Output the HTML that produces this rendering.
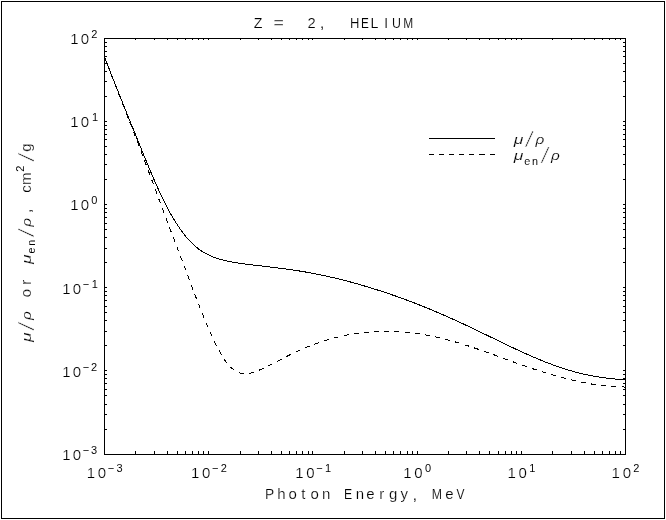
<!DOCTYPE html>
<html lang="en"><head><meta charset="utf-8"><title>Z = 2, HELIUM</title>
<style>html,body{margin:0;padding:0;background:#fff}body{width:666px;height:520px;overflow:hidden}svg{display:block}text{font-family:"Liberation Sans",sans-serif;fill:#000;stroke:#fff;stroke-width:0.22}.i{font-style:italic}</style></head><body>
<svg width="666" height="520" viewBox="0 0 666 520">
<rect width="666" height="520" fill="#fff"/>
<g shape-rendering="crispEdges" fill="none" stroke="#000" stroke-width="1">
<rect x="1.5" y="1.5" width="663" height="517"/>
<rect x="104.5" y="38.5" width="521" height="416"/>
<path d="M135.5 454v-3M135.5 39v1M105 429.5h2M625 429.5h-2M154.5 454v-3M154.5 39v1M105 414.5h2M625 414.5h-2M167.5 454v-3M167.5 39v1M105 404.5h2M625 404.5h-2M177.5 454v-3M177.5 39v1M105 395.5h2M625 395.5h-2M185.5 454v-3M185.5 39v1M105 389.5h2M625 389.5h-2M192.5 454v-3M192.5 39v1M105 383.5h2M625 383.5h-2M198.5 454v-3M198.5 39v1M105 378.5h2M625 378.5h-2M203.5 454v-3M203.5 39v1M105 374.5h2M625 374.5h-2M208.5 454v-3M208.5 39v1M105 370.5h2M625 370.5h-2M240.5 454v-3M240.5 39v1M105 345.5h2M625 345.5h-2M258.5 454v-3M258.5 39v1M105 331.5h2M625 331.5h-2M271.5 454v-3M271.5 39v1M105 320.5h2M625 320.5h-2M281.5 454v-3M281.5 39v1M105 312.5h2M625 312.5h-2M289.5 454v-3M289.5 39v1M105 306.5h2M625 306.5h-2M296.5 454v-3M296.5 39v1M105 300.5h2M625 300.5h-2M302.5 454v-3M302.5 39v1M105 295.5h2M625 295.5h-2M308.5 454v-3M308.5 39v1M105 291.5h2M625 291.5h-2M312.5 454v-3M312.5 39v1M105 287.5h2M625 287.5h-2M344.5 454v-3M344.5 39v1M105 262.5h2M625 262.5h-2M362.5 454v-3M362.5 39v1M105 248.5h2M625 248.5h-2M375.5 454v-3M375.5 39v1M105 237.5h2M625 237.5h-2M385.5 454v-3M385.5 39v1M105 229.5h2M625 229.5h-2M393.5 454v-3M393.5 39v1M105 223.5h2M625 223.5h-2M400.5 454v-3M400.5 39v1M105 217.5h2M625 217.5h-2M407.5 454v-3M407.5 39v1M105 212.5h2M625 212.5h-2M412.5 454v-3M412.5 39v1M105 208.5h2M625 208.5h-2M417.5 454v-3M417.5 39v1M105 204.5h2M625 204.5h-2M448.5 454v-3M448.5 39v1M105 179.5h2M625 179.5h-2M466.5 454v-3M466.5 39v1M105 164.5h2M625 164.5h-2M479.5 454v-3M479.5 39v1M105 154.5h2M625 154.5h-2M489.5 454v-3M489.5 39v1M105 146.5h2M625 146.5h-2M498.5 454v-3M498.5 39v1M105 139.5h2M625 139.5h-2M505.5 454v-3M505.5 39v1M105 134.5h2M625 134.5h-2M511.5 454v-3M511.5 39v1M105 129.5h2M625 129.5h-2M516.5 454v-3M516.5 39v1M105 125.5h2M625 125.5h-2M521.5 454v-3M521.5 39v1M105 121.5h2M625 121.5h-2M552.5 454v-3M552.5 39v1M105 96.5h2M625 96.5h-2M571.5 454v-3M571.5 39v1M105 81.5h2M625 81.5h-2M584.5 454v-3M584.5 39v1M105 71.5h2M625 71.5h-2M594.5 454v-3M594.5 39v1M105 63.5h2M625 63.5h-2M602.5 454v-3M602.5 39v1M105 56.5h2M625 56.5h-2M609.5 454v-3M609.5 39v1M105 51.5h2M625 51.5h-2M615.5 454v-3M615.5 39v1M105 46.5h2M625 46.5h-2M620.5 454v-3M620.5 39v1M105 42.5h2M625 42.5h-2"/>
<path d="M429 138.5H495"/>
<path d="M429 154.5h5M439 154.5h5M449 154.5h5M459 154.5h5M469 154.5h5M479 154.5h6M490 154.5h5"/>
<polyline points="104.2,56.11 105.7,60.01 107.2,63.89 108.7,67.76 110.21,71.6 111.71,75.43 113.21,79.24 114.71,83.03 116.21,86.82 117.71,90.59 119.21,94.35 120.72,98.1 122.22,101.84 123.72,105.57 125.22,109.3 126.72,113.02 128.22,116.74 129.72,120.45 131.23,124.17 132.73,127.88 134.23,131.59 135.73,135.31 137.23,139.02 138.73,142.74 140.23,146.44 141.74,150.14 143.24,153.83 144.74,157.5 146.24,161.14 147.74,164.76 149.24,168.35 150.74,171.91 152.25,175.43 153.75,178.91 155.25,182.34 156.75,185.72 158.25,189.05 159.75,192.32 161.25,195.52 162.76,198.65 164.26,201.71 165.76,204.69 167.26,207.58 168.76,210.38 170.26,213.1 171.76,215.74 173.27,218.29 174.77,220.76 176.27,223.15 177.77,225.46 179.27,227.69 180.77,229.85 182.27,231.92 183.78,233.91 185.28,235.81 186.78,237.62 188.28,239.35 189.78,240.99 191.28,242.55 192.79,244.02 194.29,245.41 195.79,246.72 197.29,247.95 198.79,249.1 200.29,250.18 201.79,251.18 203.3,252.11 204.8,252.98 206.3,253.8 207.8,254.56 209.3,255.28 210.8,255.95 212.3,256.58 213.81,257.17 215.31,257.72 216.81,258.23 218.31,258.72 219.81,259.17 221.31,259.6 222.81,260 224.32,260.37 225.82,260.73 227.32,261.06 228.82,261.38 230.32,261.69 231.82,261.97 233.32,262.25 234.83,262.51 236.33,262.76 237.83,263 239.33,263.23 240.83,263.45 242.33,263.66 243.83,263.87 245.34,264.07 246.84,264.26 248.34,264.46 249.84,264.64 251.34,264.82 252.84,265 254.34,265.18 255.85,265.35 257.35,265.52 258.85,265.7 260.35,265.87 261.85,266.04 263.35,266.21 264.85,266.38 266.36,266.56 267.86,266.73 269.36,266.91 270.86,267.08 272.36,267.26 273.86,267.44 275.36,267.63 276.87,267.81 278.37,268 279.87,268.19 281.37,268.38 282.87,268.58 284.37,268.78 285.87,268.98 287.38,269.19 288.88,269.4 290.38,269.61 291.88,269.83 293.38,270.05 294.88,270.28 296.38,270.51 297.89,270.74 299.39,270.98 300.89,271.22 302.39,271.47 303.89,271.72 305.39,271.98 306.89,272.24 308.4,272.51 309.9,272.78 311.4,273.06 312.9,273.35 314.4,273.63 315.9,273.93 317.4,274.22 318.91,274.53 320.41,274.83 321.91,275.15 323.41,275.46 324.91,275.79 326.41,276.11 327.91,276.45 329.42,276.78 330.92,277.12 332.42,277.47 333.92,277.82 335.42,278.18 336.92,278.54 338.42,278.9 339.93,279.27 341.43,279.65 342.93,280.03 344.43,280.41 345.93,280.8 347.43,281.2 348.93,281.6 350.44,282 351.94,282.41 353.44,282.82 354.94,283.24 356.44,283.66 357.94,284.09 359.44,284.52 360.95,284.95 362.45,285.39 363.95,285.83 365.45,286.28 366.95,286.73 368.45,287.18 369.96,287.64 371.46,288.1 372.96,288.56 374.46,289.03 375.96,289.51 377.46,289.99 378.96,290.47 380.47,290.95 381.97,291.44 383.47,291.94 384.97,292.43 386.47,292.94 387.97,293.44 389.47,293.95 390.98,294.47 392.48,294.99 393.98,295.51 395.48,296.03 396.98,296.56 398.48,297.09 399.98,297.63 401.49,298.17 402.99,298.71 404.49,299.26 405.99,299.82 407.49,300.37 408.99,300.93 410.49,301.5 412,302.07 413.5,302.64 415,303.22 416.5,303.8 418,304.39 419.5,304.98 421,305.58 422.51,306.18 424.01,306.79 425.51,307.4 427.01,308.01 428.51,308.62 430.01,309.24 431.51,309.87 433.02,310.49 434.52,311.12 436.02,311.76 437.52,312.4 439.02,313.04 440.52,313.69 442.02,314.34 443.53,315 445.03,315.66 446.53,316.32 448.03,316.99 449.53,317.66 451.03,318.34 452.53,319.01 454.04,319.69 455.54,320.38 457.04,321.06 458.54,321.75 460.04,322.44 461.54,323.14 463.04,323.84 464.55,324.54 466.05,325.24 467.55,325.95 469.05,326.66 470.55,327.38 472.05,328.09 473.55,328.81 475.06,329.53 476.56,330.25 478.06,330.97 479.56,331.69 481.06,332.42 482.56,333.14 484.06,333.86 485.57,334.59 487.07,335.31 488.57,336.04 490.07,336.76 491.57,337.49 493.07,338.22 494.57,338.94 496.08,339.67 497.58,340.4 499.08,341.13 500.58,341.85 502.08,342.58 503.58,343.3 505.08,344.02 506.59,344.75 508.09,345.46 509.59,346.18 511.09,346.89 512.59,347.6 514.09,348.31 515.59,349.01 517.1,349.71 518.6,350.4 520.1,351.09 521.6,351.78 523.1,352.47 524.6,353.14 526.1,353.82 527.61,354.49 529.11,355.16 530.61,355.82 532.11,356.47 533.61,357.12 535.11,357.77 536.61,358.4 538.12,359.03 539.62,359.66 541.12,360.28 542.62,360.89 544.12,361.49 545.62,362.09 547.13,362.68 548.63,363.26 550.13,363.83 551.63,364.39 553.13,364.94 554.63,365.49 556.13,366.02 557.64,366.55 559.14,367.06 560.64,367.57 562.14,368.07 563.64,368.56 565.14,369.04 566.64,369.51 568.15,369.97 569.65,370.42 571.15,370.86 572.65,371.29 574.15,371.71 575.65,372.12 577.15,372.52 578.66,372.9 580.16,373.28 581.66,373.65 583.16,374 584.66,374.35 586.16,374.68 587.66,375 589.17,375.3 590.67,375.6 592.17,375.88 593.67,376.15 595.17,376.4 596.67,376.65 598.17,376.88 599.68,377.11 601.18,377.33 602.68,377.54 604.18,377.75 605.68,377.95 607.18,378.15 608.68,378.34 610.19,378.52 611.69,378.68 613.19,378.84 614.69,378.98 616.19,379.1 617.69,379.21 619.19,379.3 620.7,379.38 622.2,379.43 623.7,379.46 625.2,379.47"/>
<polyline points="104.2,56.34 105.7,60.29 107.2,64.21 108.7,68.11 110.21,71.99 111.71,75.86 113.21,79.71 114.71,83.55 116.21,87.38 117.71,91.2 119.21,95.02 120.72,98.84 122.22,102.65 123.72,106.46 125.22,110.28 126.72,114.1 128.22,117.93 129.72,121.77 131.23,125.63 132.73,129.49 134.23,133.37 135.73,137.27 137.23,141.19 138.73,145.13 140.23,149.08 141.74,153.05 143.24,157.04 144.74,161.04 146.24,165.05 147.74,169.07 149.24,173.1 150.74,177.14 152.25,181.19 153.75,185.24 155.25,189.3 156.75,193.35 158.25,197.41 159.75,201.46 161.25,205.51 162.76,209.54 164.26,213.56 165.76,217.56 167.26,221.55 168.76,225.51 170.26,229.46 171.76,233.39 173.27,237.32 174.77,241.26 176.27,245.19 177.77,249.14 179.27,253.09 180.77,257.06 182.27,261.04 183.78,265.03 185.28,269.04 186.78,273.05 188.28,277.07 189.78,281.08 191.28,285.08 192.79,289.07 194.29,293.03 195.79,296.96 197.29,300.85 198.79,304.69 200.29,308.49 201.79,312.23 203.3,315.92 204.8,319.56 206.3,323.14 207.8,326.67 209.3,330.13 210.8,333.54 212.3,336.86 213.81,340.1 215.31,343.24 216.81,346.27 218.31,349.18 219.81,351.96 221.31,354.6 222.81,357.08 224.32,359.4 225.82,361.55 227.32,363.51 228.82,365.28 230.32,366.86 231.82,368.27 233.32,369.5 234.83,370.56 236.33,371.46 237.83,372.2 239.33,372.78 240.83,373.22 242.33,373.52 243.83,373.69 245.34,373.74 246.84,373.68 248.34,373.52 249.84,373.27 251.34,372.93 252.84,372.52 254.34,372.04 255.85,371.51 257.35,370.93 258.85,370.32 260.35,369.67 261.85,369 263.35,368.31 264.85,367.59 266.36,366.86 267.86,366.11 269.36,365.36 270.86,364.59 272.36,363.82 273.86,363.05 275.36,362.27 276.87,361.49 278.37,360.71 279.87,359.94 281.37,359.16 282.87,358.39 284.37,357.62 285.87,356.85 287.38,356.1 288.88,355.35 290.38,354.6 291.88,353.87 293.38,353.15 294.88,352.44 296.38,351.74 297.89,351.05 299.39,350.37 300.89,349.7 302.39,349.04 303.89,348.39 305.39,347.75 306.89,347.13 308.4,346.52 309.9,345.92 311.4,345.33 312.9,344.75 314.4,344.18 315.9,343.63 317.4,343.09 318.91,342.56 320.41,342.04 321.91,341.54 323.41,341.04 324.91,340.56 326.41,340.09 327.91,339.64 329.42,339.2 330.92,338.77 332.42,338.35 333.92,337.95 335.42,337.56 336.92,337.18 338.42,336.82 339.93,336.47 341.43,336.13 342.93,335.8 344.43,335.49 345.93,335.19 347.43,334.9 348.93,334.62 350.44,334.36 351.94,334.11 353.44,333.87 354.94,333.64 356.44,333.42 357.94,333.22 359.44,333.02 360.95,332.84 362.45,332.67 363.95,332.51 365.45,332.36 366.95,332.23 368.45,332.1 369.96,331.98 371.46,331.88 372.96,331.78 374.46,331.7 375.96,331.63 377.46,331.57 378.96,331.51 380.47,331.47 381.97,331.44 383.47,331.42 384.97,331.41 386.47,331.41 387.97,331.43 389.47,331.45 390.98,331.48 392.48,331.52 393.98,331.57 395.48,331.63 396.98,331.7 398.48,331.78 399.98,331.88 401.49,331.98 402.99,332.09 404.49,332.21 405.99,332.34 407.49,332.49 408.99,332.64 410.49,332.8 412,332.97 413.5,333.16 415,333.35 416.5,333.55 418,333.76 419.5,333.98 421,334.22 422.51,334.46 424.01,334.71 425.51,334.97 427.01,335.24 428.51,335.52 430.01,335.8 431.51,336.1 433.02,336.41 434.52,336.72 436.02,337.05 437.52,337.38 439.02,337.72 440.52,338.07 442.02,338.43 443.53,338.8 445.03,339.18 446.53,339.56 448.03,339.95 449.53,340.35 451.03,340.76 452.53,341.17 454.04,341.59 455.54,342.02 457.04,342.46 458.54,342.9 460.04,343.35 461.54,343.81 463.04,344.27 464.55,344.74 466.05,345.21 467.55,345.69 469.05,346.18 470.55,346.67 472.05,347.17 473.55,347.67 475.06,348.17 476.56,348.69 478.06,349.2 479.56,349.72 481.06,350.24 482.56,350.76 484.06,351.29 485.57,351.82 487.07,352.35 488.57,352.89 490.07,353.42 491.57,353.96 493.07,354.51 494.57,355.05 496.08,355.6 497.58,356.15 499.08,356.7 500.58,357.25 502.08,357.8 503.58,358.35 505.08,358.9 506.59,359.46 508.09,360.01 509.59,360.56 511.09,361.1 512.59,361.65 514.09,362.19 515.59,362.73 517.1,363.27 518.6,363.81 520.1,364.34 521.6,364.87 523.1,365.41 524.6,365.93 526.1,366.46 527.61,366.98 529.11,367.5 530.61,368.01 532.11,368.52 533.61,369.03 535.11,369.53 536.61,370.03 538.12,370.52 539.62,371 541.12,371.48 542.62,371.96 544.12,372.42 545.62,372.89 547.13,373.34 548.63,373.79 550.13,374.23 551.63,374.67 553.13,375.1 554.63,375.52 556.13,375.94 557.64,376.35 559.14,376.76 560.64,377.16 562.14,377.55 563.64,377.94 565.14,378.33 566.64,378.7 568.15,379.08 569.65,379.44 571.15,379.8 572.65,380.16 574.15,380.51 575.65,380.86 577.15,381.2 578.66,381.53 580.16,381.85 581.66,382.17 583.16,382.48 584.66,382.78 586.16,383.07 587.66,383.35 589.17,383.62 590.67,383.88 592.17,384.13 593.67,384.37 595.17,384.59 596.67,384.81 598.17,385.01 599.68,385.19 601.18,385.36 602.68,385.52 604.18,385.66 605.68,385.79 607.18,385.9 608.68,386.01 610.19,386.11 611.69,386.2 613.19,386.29 614.69,386.37 616.19,386.46 617.69,386.54 619.19,386.64 620.7,386.73 622.2,386.83 623.7,386.95 625.2,387.07" stroke-dasharray="5 5.21" stroke-dashoffset="0.69"/>
</g>
<text font-size="15"><tspan x="253.64" y="27.6" font-size="15.5" textLength="8.71" lengthAdjust="spacingAndGlyphs" stroke-width="0.19">Z</tspan> <tspan x="273.55" y="27.6" font-size="15.5" textLength="10.41" lengthAdjust="spacingAndGlyphs">=</tspan>  <tspan x="307.41" y="27.6" font-size="15.5" textLength="8.19" lengthAdjust="spacingAndGlyphs" stroke-width="0.2">2</tspan><tspan x="319.92" y="28.1" stroke-width="0.05">,</tspan> <tspan x="349.9" y="27.6" font-size="15.5" textLength="9.4" lengthAdjust="spacingAndGlyphs" stroke-width="0.16">H</tspan><tspan x="360.94" y="27.6" font-size="15.5" textLength="7.86" lengthAdjust="spacingAndGlyphs" stroke-width="0.14">E</tspan><tspan x="370.39" y="27.6" font-size="15.5" textLength="7.93" lengthAdjust="spacingAndGlyphs" stroke-width="0.19">L</tspan><tspan x="384.05" y="27.6" font-size="15.5">I</tspan><tspan x="392.02" y="27.6" font-size="15.5" textLength="8.95" lengthAdjust="spacingAndGlyphs" stroke-width="0.15">U</tspan><tspan x="403.33" y="27.6" font-size="15.5" textLength="9.94" lengthAdjust="spacingAndGlyphs" stroke-width="0.14">M</tspan></text>
<text font-size="15"><tspan x="264.9" y="499" textLength="9.2" lengthAdjust="spacingAndGlyphs" stroke-width="0.19">P</tspan><tspan x="277.3" y="499">h</tspan><tspan x="288.53" y="499">o</tspan><tspan x="301.21" y="499">t</tspan><tspan x="310.38" y="499">o</tspan><tspan x="322.07" y="499">n</tspan> <tspan x="344.01" y="499" textLength="8.2" lengthAdjust="spacingAndGlyphs" stroke-width="0.16">E</tspan><tspan x="355.82" y="499">n</tspan><tspan x="366.34" y="499">e</tspan><tspan x="379.28" y="499">r</tspan><tspan x="389.05" y="499">g</tspan><tspan x="400.45" y="499">y</tspan><tspan x="412.87" y="499.5" stroke-width="0.05">,</tspan> <tspan x="431.68" y="499" textLength="10.25" lengthAdjust="spacingAndGlyphs" stroke-width="0.16">M</tspan><tspan x="445.19" y="499">e</tspan><tspan x="456.5" y="499" textLength="8" lengthAdjust="spacingAndGlyphs" stroke-width="0.15">V</tspan></text>
<text font-size="15"><tspan x="86.82" y="478.2">1</tspan><tspan x="97.83" y="478.2">0</tspan><tspan x="107.79" y="472" font-size="11" stroke-width="0.02">−</tspan><tspan x="116.47" y="472" font-size="11" stroke-width="0.02">3</tspan></text>
<text font-size="15"><tspan x="191.02" y="478.2">1</tspan><tspan x="202.03" y="478.2">0</tspan><tspan x="211.99" y="472" font-size="11" stroke-width="0.02">−</tspan><tspan x="220.64" y="472" font-size="11" stroke-width="0.02">2</tspan></text>
<text font-size="15"><tspan x="295.22" y="478.2">1</tspan><tspan x="306.23" y="478.2">0</tspan><tspan x="316.19" y="472" font-size="11" stroke-width="0.02">−</tspan><tspan x="324.99" y="472" font-size="11" stroke-width="0.02">1</tspan></text>
<text font-size="15"><tspan x="403.22" y="478.2">1</tspan><tspan x="414.33" y="478.2">0</tspan><tspan x="424.94" y="472" font-size="11" stroke-width="0.02">0</tspan></text>
<text font-size="15"><tspan x="507.42" y="478.2">1</tspan><tspan x="518.53" y="478.2">0</tspan><tspan x="529.29" y="472" font-size="11" stroke-width="0.02">1</tspan></text>
<text font-size="15"><tspan x="611.62" y="478.2">1</tspan><tspan x="622.73" y="478.2">0</tspan><tspan x="633.34" y="472" font-size="11" stroke-width="0.02">2</tspan></text>
<text font-size="15"><tspan x="70.22" y="44.4">1</tspan><tspan x="80.83" y="44.4">0</tspan><tspan x="91.24" y="37.6" font-size="11" stroke-width="0.02">2</tspan></text>
<text font-size="15"><tspan x="70.22" y="127.4">1</tspan><tspan x="80.83" y="127.4">0</tspan><tspan x="92.09" y="120.6" font-size="11" stroke-width="0.02">1</tspan></text>
<text font-size="15"><tspan x="70.22" y="210.4">1</tspan><tspan x="80.83" y="210.4">0</tspan><tspan x="91.24" y="203.6" font-size="11" stroke-width="0.02">0</tspan></text>
<text font-size="15"><tspan x="62.22" y="294.4">1</tspan><tspan x="72.83" y="294.4">0</tspan><tspan x="82.79" y="287.6" font-size="11" stroke-width="0.02">−</tspan><tspan x="91.79" y="287.6" font-size="11" stroke-width="0.02">1</tspan></text>
<text font-size="15"><tspan x="62.22" y="377.4">1</tspan><tspan x="72.83" y="377.4">0</tspan><tspan x="82.79" y="370.6" font-size="11" stroke-width="0.02">−</tspan><tspan x="90.94" y="370.6" font-size="11" stroke-width="0.02">2</tspan></text>
<text font-size="15"><tspan x="62.22" y="460.4">1</tspan><tspan x="72.83" y="460.4">0</tspan><tspan x="82.79" y="453.6" font-size="11" stroke-width="0.02">−</tspan><tspan x="90.97" y="453.6" font-size="11" stroke-width="0.02">3</tspan></text>
<text font-size="13" class="i"><tspan x="513.72" y="144" textLength="9.61" lengthAdjust="spacingAndGlyphs" stroke-width="0.15">μ</tspan><tspan x="526.1" y="146.6" font-size="21.5" stroke-width="0.6">/</tspan><tspan x="535.63" y="144" textLength="8.79" lengthAdjust="spacingAndGlyphs" stroke-width="0.15">ρ</tspan></text>
<text font-size="13" class="i"><tspan x="513.72" y="160.2" textLength="9.61" lengthAdjust="spacingAndGlyphs" stroke-width="0.15">μ</tspan><tspan x="524.21" y="164.8" font-size="10.8" font-style="normal" stroke-width="0.02">e</tspan><tspan x="531.99" y="164.8" font-size="10.8" font-style="normal" stroke-width="0.02">n</tspan><tspan x="541.7" y="162.8" font-size="21.5" stroke-width="0.6">/</tspan><tspan x="550.99" y="160.2" textLength="8.79" lengthAdjust="spacingAndGlyphs" stroke-width="0.15">ρ</tspan></text>
<text font-size="15" transform="rotate(-90)"><tspan x="-341.98" y="30.8" font-size="13" class="i" textLength="9.61" lengthAdjust="spacingAndGlyphs" stroke-width="0.15">μ</tspan><tspan x="-329.6" y="34.2" font-size="21.5" class="i" stroke-width="0.6">/</tspan><tspan x="-320.07" y="30.8" font-size="13" class="i" textLength="8.79" lengthAdjust="spacingAndGlyphs" stroke-width="0.15">ρ</tspan> <tspan x="-297.17" y="30.8">o</tspan><tspan x="-284.87" y="30.8">r</tspan> <tspan x="-263.98" y="30.8" font-size="13" class="i" textLength="9.61" lengthAdjust="spacingAndGlyphs" stroke-width="0.15">μ</tspan><tspan x="-253.49" y="35.4" font-size="10.8" stroke-width="0.02">e</tspan><tspan x="-245.71" y="35.4" font-size="10.8" stroke-width="0.02">n</tspan><tspan x="-236" y="34.2" font-size="21.5" class="i" stroke-width="0.6">/</tspan><tspan x="-226.71" y="30.8" font-size="13" class="i" textLength="8.79" lengthAdjust="spacingAndGlyphs" stroke-width="0.15">ρ</tspan><tspan x="-213.08" y="31.3" stroke-width="0.05">,</tspan> <tspan x="-192.77" y="30.8">c</tspan><tspan x="-184.95" y="30.8">m</tspan><tspan x="-171.76" y="24.3" font-size="11" stroke-width="0.02">2</tspan><tspan x="-160.6" y="34.2" font-size="21.5" class="i" stroke-width="0.6">/</tspan><tspan x="-151.8" y="30.8">g</tspan></text>
</svg></body></html>
